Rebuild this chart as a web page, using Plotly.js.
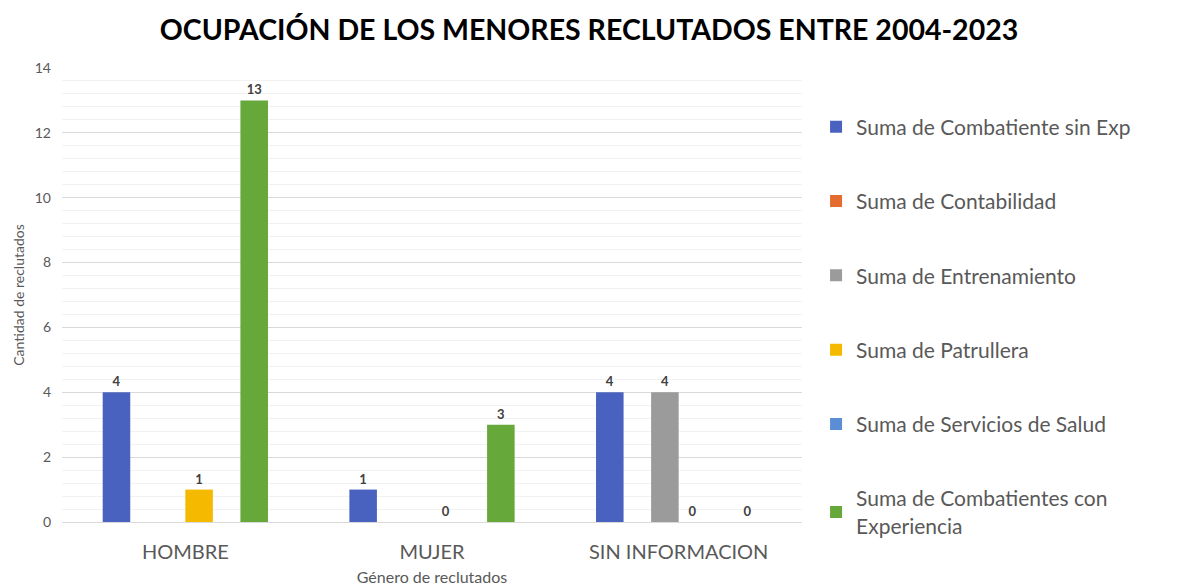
<!DOCTYPE html>
<html>
<head>
<meta charset="utf-8">
<script src="https://cdn.plot.ly/plotly-3.0.1.min.js"></script>
<style>html,body{margin:0;padding:0;background:#fff;}#chart{width:1178px;height:588px;}</style>
</head>
<body>
<div id="chart"></div>
<script>
const categories = ["HOMBRE", "MUJER", "SIN INFORMACION"];
const seriesNames = [
  "Suma de Combatiente sin Exp",
  "Suma de Contabilidad",
  "Suma de Entrenamiento",
  "Suma de Patrullera",
  "Suma de Servicios de Salud",
  "Suma de Combatientes con<br>Experiencia"
];
const combatienteSinExp = [4, 1, 4];
const contabilidad = [null, null, null];
const entrenamiento = [null, null, 4];
const patrullera = [1, 0, 0];
const serviciosSalud = [null, null, null];
const combatientesConExp = [13, 3, 0];
const seriesValues = [combatienteSinExp, contabilidad, entrenamiento, patrullera, serviciosSalud, combatientesConExp];
const colors = ["#4A62BF", "#E46C2E", "#9B9B9B", "#F5BA00", "#5A8FD6", "#67A83A"];

const traces = seriesNames.map((name, i) => ({
  type: "bar",
  name: name,
  x: categories,
  y: seriesValues[i],
  text: seriesValues[i].map(v => v === null ? "" : String(v)),
  textposition: "outside",
  cliponaxis: false,
  textfont: {family: "Lato, 'Open Sans', sans-serif", size: 13, color: "#404040", weight: "bold"},
  marker: {color: colors[i]},
  legendgroup: "g" + i,
  hoverinfo: "x+y+name"
}));

const layout = {
  width: 1178,
  height: 588,
  paper_bgcolor: "#ffffff",
  plot_bgcolor: "#ffffff",
  margin: {l: 62, r: 376, t: 68, b: 66},
  title: {
    text: "OCUPACIÓN DE LOS MENORES RECLUTADOS ENTRE 2004-2023",
    font: {family: "Lato, 'Open Sans', sans-serif", size: 28.5, color: "#000000", weight: "bold"},
    x: 0.5, xanchor: "center", xref: "container",
    y: 0.949, yanchor: "middle", yref: "container"
  },
  barmode: "group",
  bargap: 0.33,
  bargroupgap: 0,
  xaxis: {
    type: "category",
    showgrid: false,
    zeroline: false,
    showline: false,
    ticks: "",
    ticklabelstandoff: 16,
    tickfont: {family: "Lato, 'Open Sans', sans-serif", size: 20, color: "#595959"},
    title: {text: "Género de reclutados", font: {family: "Lato, 'Open Sans', sans-serif", size: 16, color: "#595959"}, standoff: 9}
  },
  yaxis: {
    range: [0, 14],
    dtick: 2,
    showgrid: true,
    gridcolor: "#d9d9d9",
    gridwidth: 1,
    zeroline: true,
    zerolinecolor: "#d9d9d9",
    zerolinewidth: 1,
    showline: false,
    ticks: "",
    ticklabelstandoff: 10,
    tickfont: {family: "Lato, 'Open Sans', sans-serif", size: 14, color: "#595959"},
    minor: {dtick: 0.4, showgrid: true, gridcolor: "#f2f2f2", gridwidth: 1},
    title: {text: "Cantidad de reclutados", font: {family: "Lato, 'Open Sans', sans-serif", size: 14, color: "#595959"}, standoff: 6}
  },
  showlegend: true,
  legend: {
    x: 1.019, xanchor: "left",
    y: 0.915, yanchor: "top",
    traceorder: "grouped",
    tracegroupgap: 44,
    font: {family: "Lato, 'Open Sans', sans-serif", size: 21, color: "#595959"},
    bgcolor: "rgba(0,0,0,0)",
    itemclick: false
  }
};

Plotly.newPlot("chart", traces, layout, {displayModeBar: false, responsive: false});
</script>
</body>
</html>
